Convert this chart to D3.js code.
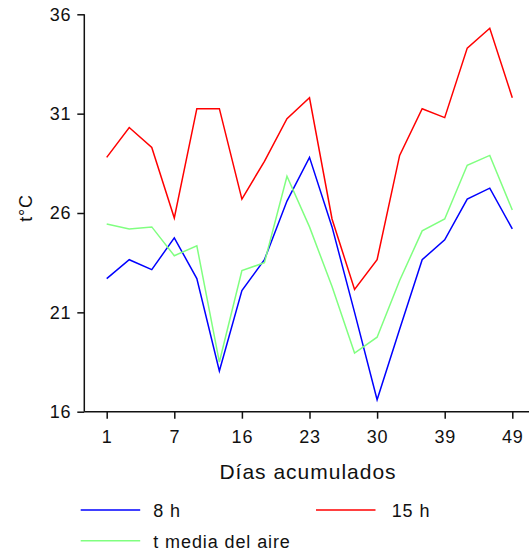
<!DOCTYPE html>
<html><head><meta charset="utf-8">
<script src="https://cdn.jsdelivr.net/npm/d3@7"></script>
<style>
html,body{margin:0;padding:0;background:#fff;}
svg{display:block;}
text{font-family:"Liberation Sans",Arial,sans-serif;fill:#111;}
</style></head>
<body><svg id="c" width="529" height="552"></svg>
<script>
const days = [1,3,5,7,10,13,16,18,21,23,25,28,30,33,36,39,42,45,49];
const xTickLabels = [1,7,16,23,30,39,49];
const yTickLabels = [16,21,26,31,36];
const t8h  = [22.7,23.65,23.15,24.75,22.7,18.05,22.1,23.65,26.6,28.8,25.3,21.0,16.6,20.15,23.65,24.65,26.7,27.25,25.2];
const t15h = [28.8,30.3,29.3,25.75,31.25,31.25,26.7,28.6,30.75,31.8,25.7,22.15,23.65,28.9,31.25,30.8,34.3,35.3,31.8];
const tMedia = [25.45,25.2,25.3,23.85,24.35,18.5,23.1,23.5,27.85,25.3,22.3,18.95,19.75,22.6,25.1,25.7,28.4,28.9,26.15];
const seriesNames = ["8 h","15 h","t media del aire"];
const seriesColors = ["#0000ff","#ff0000","#80ff80"];

const svg = d3.select("#c");
const x = d3.scalePoint().domain(days).range([106.7,512.3]);
const y = d3.scaleLinear().domain([16,36]).range([411.7,14.3]);
const axisX0 = 84.3, axisY0 = 411.7;

// y axis
const ya = svg.append("g").attr("transform",`translate(${axisX0},0)`)
  .call(d3.axisLeft(y).tickValues(yTickLabels).tickSize(7).tickPadding(6).tickSizeOuter(0));
ya.select(".domain").remove();
ya.selectAll(".tick line").attr("stroke","#111").attr("stroke-width",1.5);
ya.selectAll(".tick text").attr("font-size",18).attr("letter-spacing",0.8).attr("fill","#111").style("font-family",'"Liberation Sans",Arial,sans-serif');

// x axis
const xa = svg.append("g").attr("transform",`translate(0,${axisY0})`)
  .call(d3.axisBottom(x).tickValues(xTickLabels).tickSize(7).tickPadding(12).tickSizeOuter(0));
xa.select(".domain").remove();
xa.selectAll(".tick line").attr("stroke","#111").attr("stroke-width",1.5);
xa.selectAll(".tick text").attr("font-size",18).attr("letter-spacing",0.8).attr("fill","#111").style("font-family",'"Liberation Sans",Arial,sans-serif');

// axis lines
svg.append("line").attr("x1",axisX0).attr("x2",axisX0).attr("y1",y(36)).attr("y2",axisY0).attr("stroke","#111").attr("stroke-width",1.5);
svg.append("line").attr("x1",axisX0).attr("x2",529).attr("y1",axisY0).attr("y2",axisY0).attr("stroke","#111").attr("stroke-width",1.5);

// lines
const line = d3.line().x((d,i)=>x(days[i])).y(d=>y(d));
[t8h,t15h,tMedia].forEach((s,k)=>{
  svg.append("path").datum(s).attr("d",line).attr("fill","none")
    .attr("stroke",seriesColors[k]).attr("stroke-width",1.5);
});

// titles
svg.append("text").attr("x",308).attr("y",479).attr("text-anchor","middle")
  .attr("font-size",21).attr("letter-spacing",1).text("Días acumulados");
svg.append("text").attr("transform","translate(32,208) rotate(-90)").attr("text-anchor","middle")
  .attr("font-size",18).attr("letter-spacing",0.8).text("t°C");

// legend
const leg = [
  {lx:80.7, ly:510, tx:153.3},
  {lx:316, ly:510, tx:391.7},
  {lx:80.7, ly:540.7, tx:153.3}
];
leg.forEach((p,k)=>{
  svg.append("line").attr("x1",p.lx).attr("x2",p.lx+59.5).attr("y1",p.ly).attr("y2",p.ly)
    .attr("stroke",seriesColors[k]).attr("stroke-width",1.5);
  svg.append("text").attr("x",p.tx).attr("y",p.ly+7).attr("font-size",18).attr("letter-spacing",0.9)
    .text(seriesNames[k]);
});
</script></body></html>
